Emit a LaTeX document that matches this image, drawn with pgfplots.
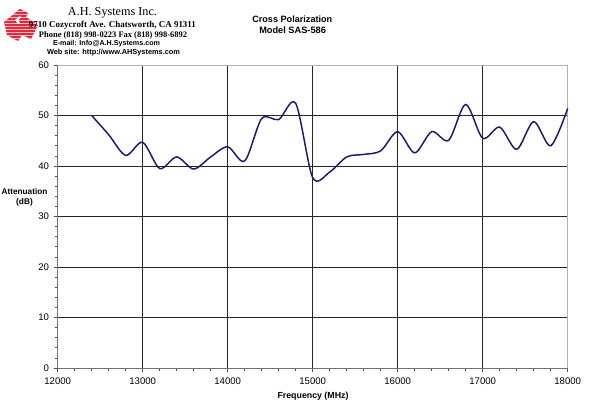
\documentclass[border=0pt]{standalone}
\usepackage{pgfplots}
\pgfplotsset{compat=1.18}
\usepackage{fontspec}
\setmainfont{Liberation Sans}
\newfontfamily\serifhead{Liberation Serif}
\usepackage{graphicx}

\definecolor{curve}{RGB}{25,25,112}
\definecolor{logored}{RGB}{228,40,60}

\pgfplotstableread{
freq  att
12400 50.0
12600 46.2
12800 42.1
13000 44.7
13200 39.5
13400 41.8
13600 39.4
13800 41.8
14000 43.8
14200 41.0
14400 49.4
14600 49.2
14800 52.4
15000 37.7
15200 38.8
15400 41.8
15600 42.3
15800 43.0
16000 46.8
16200 42.6
16400 46.8
16600 45.1
16800 52.2
17000 45.5
17200 47.7
17400 43.3
17600 48.8
17800 44.0
18000 51.4
}\crosspol

\begin{document}
\begin{tikzpicture}[x=0.75pt,y=0.75pt]
\path[use as bounding box] (0,0) rectangle (600,405);

% company logo: hatched red block with a white mark
\begin{scope}
  \clip (4,383) -- (20,396) -- (28,392) -- (26,388) -- (38,380)
    -- (31,366) -- (22,370) -- (18,364) -- (7,370) -- cycle;
  \fill[logored] (0,360) rectangle (40,400);
  \foreach \yy in {361,364,...,399}
    \draw[white!70!logored, line width=0.3pt] (0,\yy) -- (40,\yy);
\end{scope}
\fill[white] (15,385) -- (20,389) -- (21.5,387.5) -- (18,385) -- (20,382) -- (18,381) -- cycle;

% letterhead
\node[anchor=center] at (112.5,392) {\resizebox{66.75pt}{!}{\serifhead A.H. Systems Inc.}};
\node[anchor=center] at (112.5,380) {\resizebox{125.25pt}{!}{\serifhead\bfseries 9710 Cozycroft Ave. Chatsworth, CA 91311}};
\node[anchor=center] at (113,370) {\resizebox{111pt}{!}{\serifhead\bfseries Phone (818) 998-0223 Fax (818) 998-6892}};
\node[anchor=center] at (106.5,361) {\resizebox{80.25pt}{!}{\bfseries E-mail: Info@A.H.Systems.com}};
\node[anchor=center] at (113.5,352) {\resizebox{99.75pt}{!}{\bfseries Web site: http://www.AHSystems.com}};

% chart title
\node[anchor=center] at (292.3,385.5) {\resizebox{60pt}{!}{\bfseries Cross Polarization}};
\node[anchor=center] at (292.6,374.5) {\resizebox{50pt}{!}{\bfseries Model SAS-586}};

% axis titles
\node[anchor=center, align=center, font=\fontsize{6.2}{7.5}\selectfont\bfseries] at (24.5,208) {Attenuation\\(dB)};
\node[anchor=center, font=\fontsize{6.6}{8}\selectfont\bfseries] at (313,9) {Frequency (MHz)};

\begin{axis}[
  at={(43.275pt,27.75pt)}, anchor=south west,
  scale only axis, width=382.5pt, height=227.25pt,
  xmin=12000, xmax=18000, ymin=0, ymax=60,
  xtick={12000,13000,...,18000}, ytick={0,10,...,60},
  minor x tick num=4, minor y tick num=4,
  scaled x ticks=false,
  axis lines=left, axis line style={-, black!55, line width=0.6pt},
  tick align=outside, major tick length=3pt, minor tick length=2pt,
  tick style={black!70, line width=0.5pt},
  grid=major, major grid style={black!85, line width=0.5pt},
  ticklabel style={font=\fontsize{7.2}{8}\selectfont},
  /pgf/number format/assume math mode=true,
  /pgf/number format/set thousands separator={},
  xticklabel style={yshift=-1pt},
  clip=false,
]
\draw[black!30, line width=0.6pt] (rel axis cs:0,1) -- (rel axis cs:1,1) -- (rel axis cs:1,0);
\addplot[curve, line width=1.1pt, smooth, tension=0.5] table[x=freq, y=att] {\crosspol};
\end{axis}
\end{tikzpicture}
\end{document}
